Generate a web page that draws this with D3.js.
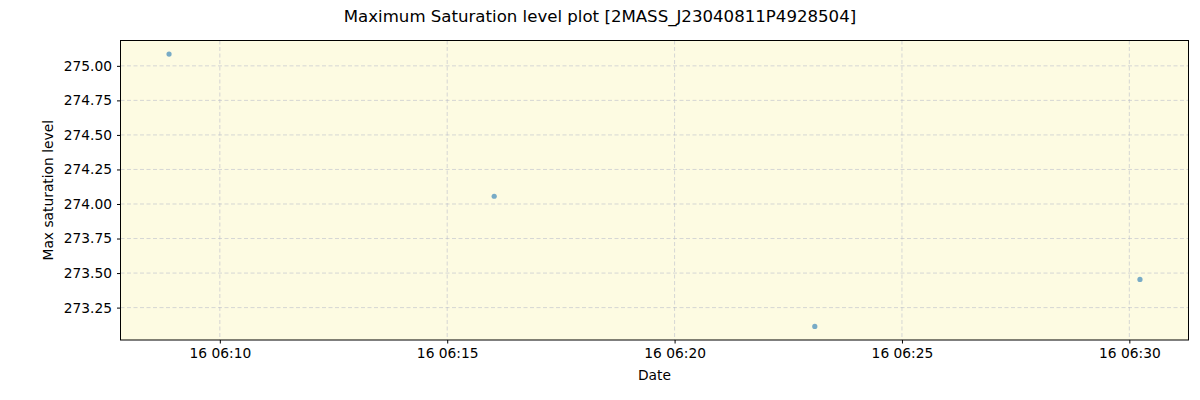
<!DOCTYPE html>
<html>
<head>
<meta charset="utf-8">
<title>Maximum Saturation level plot</title>
<script src="https://d3js.org/d3.v7.min.js"></script>
<style>
  body { margin: 0; background: #fff; }
  svg { font-family: "DejaVu Sans", sans-serif; }
</style>
</head>
<body>
<svg id="chart" width="1200" height="400"></svg>
<script>
// data
var times = ["2023-10-16 06:08:53", "2023-10-16 06:16:02", "2023-10-16 06:23:05", "2023-10-16 06:30:14"];
var saturation = [275.085, 274.056, 273.114, 273.454];
var yTicks = [273.25, 273.50, 273.75, 274.00, 274.25, 274.50, 274.75, 275.00];
var xTicks = ["2023-10-16 06:10", "2023-10-16 06:15", "2023-10-16 06:20", "2023-10-16 06:25", "2023-10-16 06:30"];

var parseTime = d3.timeParse("%Y-%m-%d %H:%M:%S");
var parseTick = d3.timeParse("%Y-%m-%d %H:%M");

var data = times.map(function(t, i) { return {date: parseTime(t), value: saturation[i]}; });

var svg = d3.select("#chart"),
    margin = {top: 40.5, right: 11.5, bottom: 60, left: 120.5},
    width = +svg.attr("width") - margin.left - margin.right,
    height = +svg.attr("height") - margin.top - margin.bottom,
    g = svg.append("g").attr("transform", "translate(" + margin.left + "," + margin.top + ")");

// matplotlib style 5% margins
var tExt = d3.extent(data, function(d) { return d.date; });
var tPad = (tExt[1] - tExt[0]) * 0.05;
var vExt = d3.extent(data, function(d) { return d.value; });
var vPad = (vExt[1] - vExt[0]) * 0.05;

var x = d3.scaleTime()
    .domain([new Date(+tExt[0] - tPad), new Date(+tExt[1] + tPad)])
    .range([0, width]);

var y = d3.scaleLinear()
    .domain([vExt[0] - vPad, vExt[1] + vPad])
    .range([height, 0]);

g.append("rect")
    .attr("width", width)
    .attr("height", height)
    .attr("fill", "#fdfbe2");

// grid
g.append("g")
    .selectAll("line")
    .data(yTicks)
    .enter().append("line")
    .attr("x1", 0).attr("x2", width)
    .attr("y1", function(d) { return y(d); })
    .attr("y2", function(d) { return y(d); })
    .attr("stroke", "#b4b8c8").attr("stroke-opacity", 0.55)
    .attr("stroke-dasharray", "4,2.5");

g.append("g")
    .selectAll("line")
    .data(xTicks.map(parseTick))
    .enter().append("line")
    .attr("y1", 0).attr("y2", height)
    .attr("x1", function(d) { return x(d); })
    .attr("x2", function(d) { return x(d); })
    .attr("stroke", "#b4b8c8").attr("stroke-opacity", 0.55)
    .attr("stroke-dasharray", "4,2.5");

var xAxis = g.append("g")
    .attr("transform", "translate(0," + height + ")")
    .call(d3.axisBottom(x)
      .tickValues(xTicks.map(parseTick))
      .tickFormat(d3.timeFormat("%d %H:%M"))
      .tickSize(3.5).tickPadding(5));

var yAxis = g.append("g")
    .call(d3.axisLeft(y)
      .tickValues(yTicks)
      .tickFormat(d3.format(".2f"))
      .tickSize(3.5).tickPadding(5));

[xAxis, yAxis].forEach(function(a) {
  a.select(".domain").remove();
  a.selectAll("text").attr("font-size", "13.8px").attr("fill", "#000")
    .attr("font-family", "DejaVu Sans, sans-serif");
  a.selectAll("line").attr("stroke", "#000");
});

// points
g.append("g")
    .selectAll("circle")
    .data(data)
    .enter().append("circle")
    .attr("cx", function(d) { return x(d.date); })
    .attr("cy", function(d) { return y(d.value); })
    .attr("r", 2.6)
    .attr("fill", "#1f77b4")
    .attr("fill-opacity", 0.6);

// frame
g.append("rect")
    .attr("width", width)
    .attr("height", height)
    .attr("fill", "none")
    .attr("stroke", "#000")
    .attr("stroke-width", 1);

svg.append("text")
    .attr("x", 600).attr("y", 22)
    .attr("text-anchor", "middle")
    .attr("font-size", "16.6px")
    .text("Maximum Saturation level plot [2MASS_J23040811P4928504]");

svg.append("text")
    .attr("x", margin.left + width / 2).attr("y", 380)
    .attr("text-anchor", "middle")
    .attr("font-size", "13.8px")
    .text("Date");

svg.append("text")
    .attr("transform", "translate(53," + (margin.top + height / 2) + ") rotate(-90)")
    .attr("text-anchor", "middle")
    .attr("font-size", "13.8px")
    .text("Max saturation level");
</script>
</body>
</html>
